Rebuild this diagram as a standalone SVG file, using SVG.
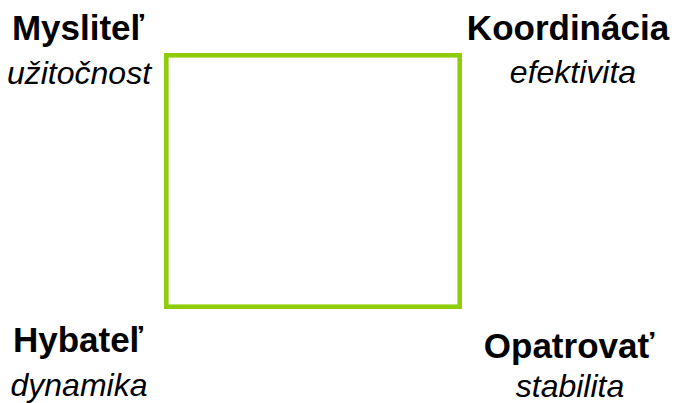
<svg xmlns="http://www.w3.org/2000/svg" width="684" height="403" viewBox="0 0 684 403">
<style>
.t{font-family:"Liberation Sans",Arial,sans-serif;font-weight:bold;font-size:35px;fill:#000;text-anchor:middle}
.s{font-family:"Liberation Sans",Arial,sans-serif;font-style:italic;font-size:32px;fill:#000;text-anchor:middle}
</style>
<rect width="684" height="403" fill="#fff"/>
<g id="square"><rect x="166.3" y="55.3" width="293.4" height="251.4" fill="none" stroke="#8fcc0a" stroke-width="4.6"/></g>
<g id="tl"><text class="t" x="78" y="40">Mysliteľ</text><text class="s" x="79" y="84">užitočnost</text></g>
<g id="tr"><text class="t" x="568" y="40">Koordinácia</text><text class="s" x="573" y="83">efektivita</text></g>
<g id="bl"><text class="t" x="78" y="352">Hybateľ</text><text class="s" x="79" y="396">dynamika</text></g>
<g id="br"><text class="t" x="569" y="358">Opatrovať</text><text class="s" x="570" y="397">stabilita</text></g>
</svg>
